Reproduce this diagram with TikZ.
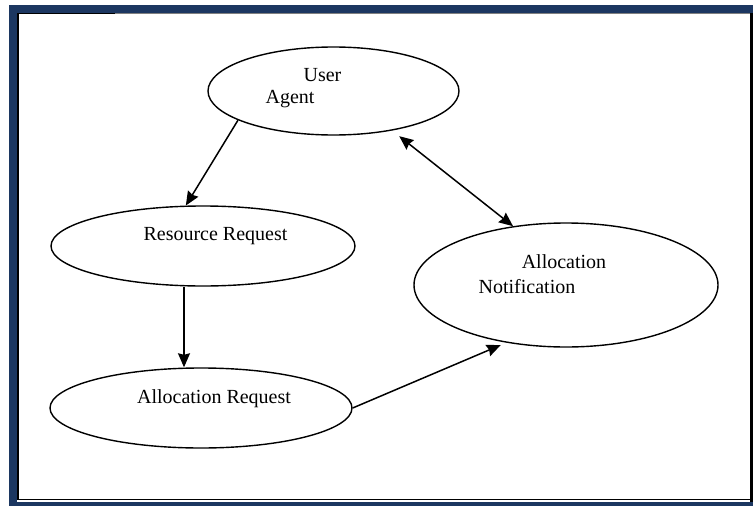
\documentclass[tikz,border=0pt]{standalone}
\usepackage{fontspec}
\setmainfont{Liberation Serif}
\usetikzlibrary{shapes.geometric,arrows.meta}
\definecolor{framenavy}{HTML}{1C3761}
\begin{document}
\begin{tikzpicture}[x=1pt,y=-1pt,
  bubble/.style={ellipse, draw=black, line width=1.4pt, inner sep=0pt},
  txt/.style={anchor=base, font=\fontsize{20}{24}\selectfont, inner sep=0pt},
  head/.tip={Stealth[length=14pt,width=12pt,inset=1.5pt]},
  flow/.style={line width=1.5pt, -head},
  twoway/.style={line width=1.5pt, head-head}
]
\useasboundingbox (0,0) rectangle (753,506);

% outer frame
\fill[framenavy] (9,5) rectangle (753,13);
\fill[framenavy] (9,5) rectangle (17,506);
\fill[framenavy] (9,502) rectangle (753,506);
\fill[black] (17,13) rectangle (18.5,500);
\fill[black] (17,13) rectangle (115,14.2);
\fill[gray] (115,13) rectangle (750,14.2);
\fill[black] (17,498.5) rectangle (750,500);
\fill[black] (749.5,13) rectangle (753,502);

% states
\node[bubble, minimum width=251pt, minimum height=88pt] (ua) at (333.5,91) {};
\node[bubble, minimum width=304pt, minimum height=80pt] (rr) at (203,246) {};
\node[bubble, minimum width=302pt, minimum height=80pt] (ar) at (201,408) {};
\node[bubble, minimum width=304pt, minimum height=124pt] (an) at (566,285) {};

% captions
\node[txt] (ua-t1) at (322.5,81) {User};
\node[txt] (ua-t2) at (290,103) {Agent};
\node[txt] (rr-t) at (215.5,240) {Resource Request};
\node[txt] (ar-t) at (214,403) {Allocation Request};
\node[txt] (an-t1) at (564,268) {Allocation};
\node[txt] (an-t2) at (527,293) {Notification};

% transitions
\coordinate (drop) at (184,0);
\draw[flow] (ua.197) -- (rr.113);
\draw[flow] (drop |- rr.south) -- (drop |- ar.north);
\draw[flow, shorten >=6pt] (ar.east) -- (an.224);
\draw[twoway, shorten <=9pt] (ua.326) -- (an.132);
\end{tikzpicture}
\end{document}
